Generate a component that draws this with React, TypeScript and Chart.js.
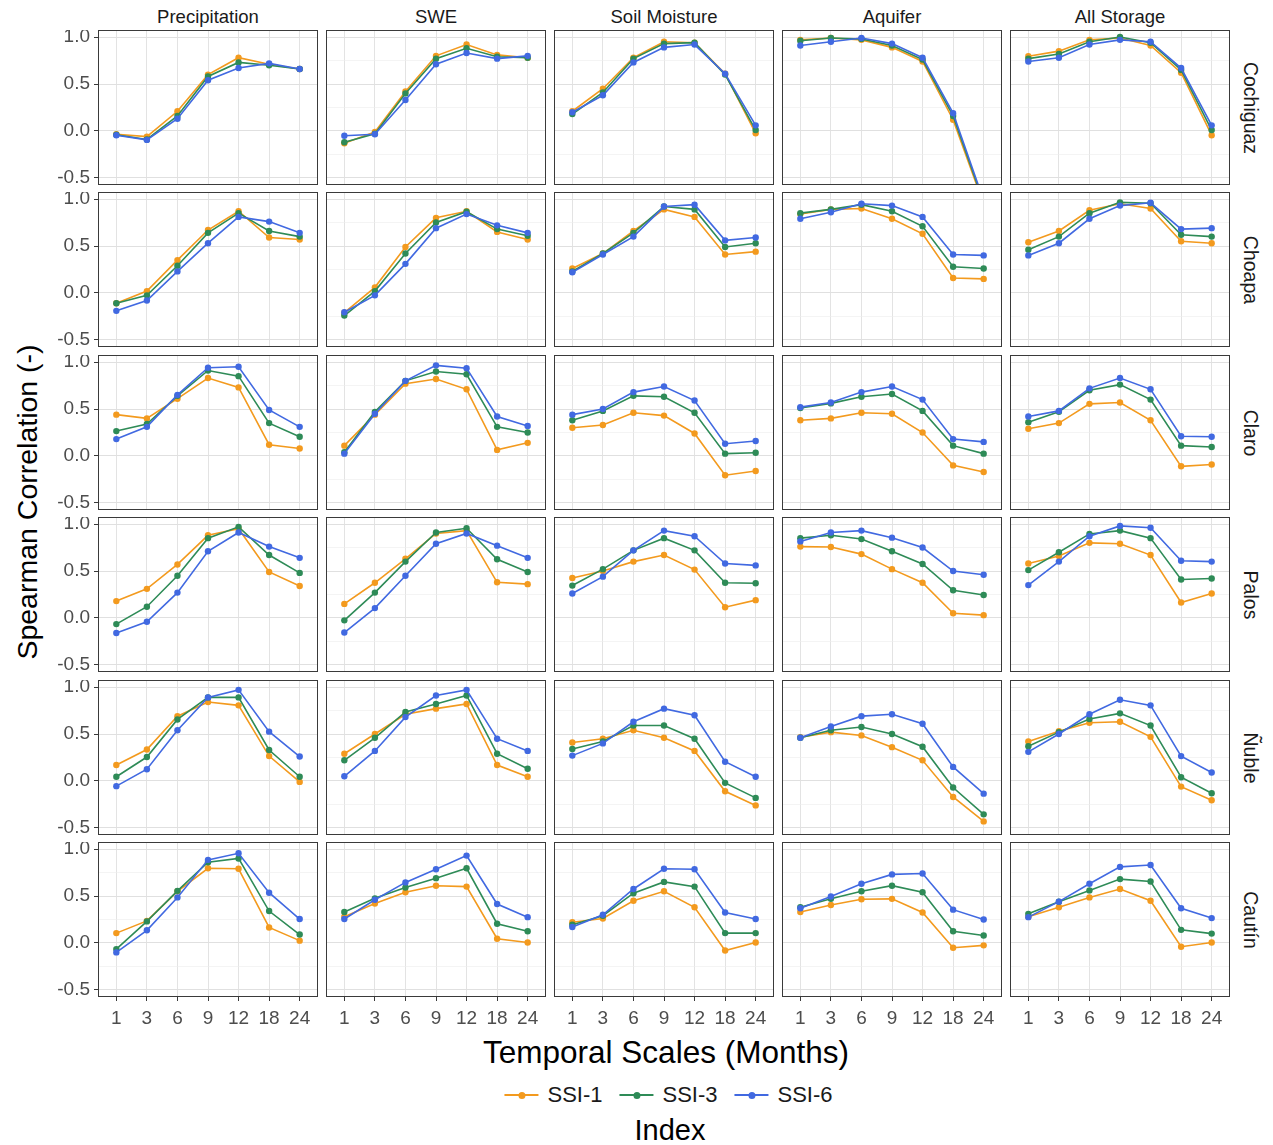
import React, { useEffect, useRef } from 'react';
import { Chart, registerables } from 'chart.js';

Chart.register(...registerables);

// ---------- categories ----------
const months = ['1', '3', '6', '9', '12', '18', '24'];
const variables = ['Precipitation', 'SWE', 'Soil Moisture', 'Aquifer', 'All Storage'];
const basins = ['Cochiguaz', 'Choapa', 'Claro', 'Palos', 'Ñuble', 'Cautín'];
const indices = ['SSI-1', 'SSI-3', 'SSI-6'];
const indexColors = ['#f39a1e', '#2e8b57', '#4169e1'];
const yMajorTicks = [-0.5, 0, 0.5, 1.0];
const yMinorTicks = [-0.25, 0.25, 0.75];

// ---------- data: each array = [SSI-1, SSI-3, SSI-6] over months ----------
const cochiguazPrecipitation = [
  [-0.035, -0.06, 0.21, 0.6, 0.78, 0.71, 0.66],
  [-0.04, -0.09, 0.16, 0.58, 0.73, 0.7, 0.66],
  [-0.045, -0.095, 0.13, 0.54, 0.67, 0.72, 0.66],
];
const cochiguazSWE = [
  [-0.13, -0.01, 0.42, 0.8, 0.92, 0.81, 0.78],
  [-0.12, -0.03, 0.4, 0.77, 0.88, 0.79, 0.78],
  [-0.05, -0.035, 0.33, 0.71, 0.83, 0.77, 0.8],
];
const cochiguazSoil = [
  [0.21, 0.45, 0.78, 0.95, 0.94, 0.61, -0.025],
  [0.18, 0.41, 0.77, 0.93, 0.94, 0.6, 0.01],
  [0.2, 0.38, 0.73, 0.89, 0.92, 0.61, 0.06],
];
const cochiguazAquifer = [
  [0.97, 0.99, 0.97, 0.89, 0.74, 0.12, -0.78],
  [0.96, 0.99, 0.98, 0.91, 0.76, 0.16, -0.76],
  [0.91, 0.95, 0.99, 0.93, 0.78, 0.19, -0.74],
];
const cochiguazAll = [
  [0.795, 0.85, 0.97, 0.99, 0.91, 0.62, -0.045],
  [0.77, 0.82, 0.95, 1.0, 0.94, 0.65, 0.01],
  [0.74, 0.78, 0.92, 0.97, 0.95, 0.67, 0.06],
];

const choapaPrecipitation = [
  [-0.11, 0.02, 0.35, 0.67, 0.87, 0.59, 0.57],
  [-0.11, -0.025, 0.29, 0.64, 0.85, 0.66, 0.6],
  [-0.19, -0.08, 0.23, 0.53, 0.81, 0.76, 0.64],
];
const choapaSWE = [
  [-0.21, 0.06, 0.49, 0.8, 0.87, 0.65, 0.57],
  [-0.24, 0.02, 0.42, 0.75, 0.865, 0.68, 0.61],
  [-0.205, -0.025, 0.31, 0.69, 0.84, 0.72, 0.64],
];
const choapaSoil = [
  [0.26, 0.42, 0.66, 0.89, 0.81, 0.41, 0.44],
  [0.23, 0.42, 0.64, 0.92, 0.89, 0.49, 0.53],
  [0.22, 0.41, 0.6, 0.92, 0.94, 0.56, 0.59],
];
const choapaAquifer = [
  [0.84, 0.89, 0.9, 0.79, 0.63, 0.16, 0.15],
  [0.85, 0.89, 0.94, 0.87, 0.71, 0.28, 0.26],
  [0.79, 0.86, 0.95, 0.93, 0.81, 0.41, 0.4],
];
const choapaAll = [
  [0.54, 0.66, 0.88, 0.95, 0.9, 0.55, 0.53],
  [0.46, 0.6, 0.85, 0.965, 0.955, 0.62, 0.6],
  [0.4, 0.53, 0.79, 0.93, 0.96, 0.68, 0.69],
];

const claroPrecipitation = [
  [0.44, 0.4, 0.61, 0.83, 0.73, 0.12, 0.08],
  [0.265, 0.34, 0.64, 0.91, 0.85, 0.35, 0.205],
  [0.18, 0.31, 0.65, 0.94, 0.95, 0.49, 0.31],
];
const claroSWE = [
  [0.11, 0.44, 0.77, 0.82, 0.71, 0.065, 0.14],
  [0.04, 0.47, 0.8, 0.9, 0.87, 0.31, 0.25],
  [0.025, 0.45, 0.8, 0.965, 0.935, 0.42, 0.32],
];
const claroSoil = [
  [0.3, 0.33, 0.46, 0.43, 0.24, -0.205, -0.16],
  [0.38, 0.48, 0.64, 0.63, 0.46, 0.025, 0.035],
  [0.44, 0.5, 0.68, 0.74, 0.59, 0.13, 0.16],
];
const claroAquifer = [
  [0.38, 0.4, 0.46, 0.45, 0.25, -0.1, -0.17],
  [0.51, 0.56, 0.63, 0.66, 0.48, 0.11, 0.025],
  [0.52, 0.57, 0.68, 0.74, 0.6, 0.18, 0.15],
];
const claroAll = [
  [0.29, 0.35, 0.555, 0.57, 0.38, -0.11, -0.09],
  [0.36, 0.47, 0.7, 0.76, 0.6, 0.11, 0.095],
  [0.42, 0.48, 0.72, 0.83, 0.71, 0.21, 0.205],
];

const palosPrecipitation = [
  [0.18, 0.31, 0.57, 0.88, 0.95, 0.49, 0.34],
  [-0.065, 0.12, 0.45, 0.85, 0.97, 0.67, 0.48],
  [-0.16, -0.04, 0.27, 0.71, 0.91, 0.76, 0.64],
];
const palosSWE = [
  [0.15, 0.375, 0.63, 0.9, 0.93, 0.38, 0.36],
  [-0.025, 0.27, 0.6, 0.91, 0.955, 0.625, 0.49],
  [-0.155, 0.105, 0.45, 0.79, 0.9, 0.77, 0.64],
];
const palosSoil = [
  [0.425, 0.5, 0.6, 0.67, 0.515, 0.115, 0.19],
  [0.345, 0.52, 0.72, 0.85, 0.72, 0.375, 0.37],
  [0.26, 0.44, 0.72, 0.93, 0.87, 0.58, 0.56],
];
const palosAquifer = [
  [0.76, 0.755, 0.68, 0.52, 0.375, 0.05, 0.03],
  [0.85, 0.88, 0.84, 0.71, 0.575, 0.295, 0.245],
  [0.815, 0.91, 0.93, 0.855, 0.75, 0.5, 0.46],
];
const palosAll = [
  [0.58, 0.66, 0.8, 0.79, 0.67, 0.165, 0.26],
  [0.51, 0.7, 0.895, 0.93, 0.85, 0.41, 0.42],
  [0.35, 0.6, 0.87, 0.98, 0.96, 0.61, 0.6],
];

const nublePrecipitation = [
  [0.17, 0.335, 0.69, 0.84, 0.805, 0.265, -0.01],
  [0.045, 0.255, 0.655, 0.89, 0.89, 0.33, 0.045],
  [-0.055, 0.125, 0.54, 0.89, 0.97, 0.525, 0.26],
];
const nubleSWE = [
  [0.29, 0.5, 0.71, 0.77, 0.82, 0.17, 0.045],
  [0.22, 0.46, 0.735, 0.82, 0.91, 0.29, 0.13],
  [0.05, 0.32, 0.68, 0.91, 0.97, 0.45, 0.32],
];
const nubleSoil = [
  [0.41, 0.45, 0.54, 0.46, 0.32, -0.11, -0.26],
  [0.34, 0.42, 0.59, 0.59, 0.45, -0.02, -0.18],
  [0.27, 0.4, 0.63, 0.77, 0.7, 0.205, 0.045],
];
const nubleAquifer = [
  [0.465, 0.52, 0.485, 0.36, 0.22, -0.17, -0.43],
  [0.46, 0.54, 0.575, 0.5, 0.365, -0.07, -0.355],
  [0.46, 0.58, 0.69, 0.71, 0.61, 0.15, -0.135],
];
const nubleAll = [
  [0.42, 0.53, 0.62, 0.63, 0.47, -0.06, -0.205],
  [0.37, 0.52, 0.66, 0.72, 0.59, 0.04, -0.13],
  [0.31, 0.5, 0.71, 0.865, 0.805, 0.265, 0.09],
];

const cautinPrecipitation = [
  [0.105, 0.235, 0.55, 0.795, 0.79, 0.165, 0.025],
  [-0.065, 0.23, 0.555, 0.86, 0.9, 0.34, 0.09],
  [-0.1, 0.135, 0.485, 0.885, 0.955, 0.535, 0.255],
];
const cautinSWE = [
  [0.28, 0.42, 0.54, 0.61, 0.6, 0.045, 0.005],
  [0.33, 0.475, 0.59, 0.69, 0.795, 0.205, 0.125],
  [0.255, 0.46, 0.645, 0.785, 0.93, 0.415, 0.275],
];
const cautinSoil = [
  [0.22, 0.26, 0.45, 0.55, 0.38, -0.08, 0.005],
  [0.195, 0.29, 0.53, 0.65, 0.6, 0.105, 0.105],
  [0.17, 0.3, 0.575, 0.79, 0.785, 0.325, 0.255],
];
const cautinAquifer = [
  [0.33, 0.405, 0.465, 0.47, 0.325, -0.05, -0.025],
  [0.38, 0.47, 0.55, 0.61, 0.54, 0.125, 0.08],
  [0.37, 0.495, 0.63, 0.73, 0.74, 0.355, 0.25],
];
const cautinAll = [
  [0.28, 0.38, 0.485, 0.575, 0.45, -0.04, 0.005],
  [0.31, 0.44, 0.56, 0.68, 0.655, 0.14, 0.1],
  [0.275, 0.44, 0.63, 0.81, 0.83, 0.37, 0.265],
];

const panelTable = [
  [cochiguazPrecipitation, cochiguazSWE, cochiguazSoil, cochiguazAquifer, cochiguazAll],
  [choapaPrecipitation, choapaSWE, choapaSoil, choapaAquifer, choapaAll],
  [claroPrecipitation, claroSWE, claroSoil, claroAquifer, claroAll],
  [palosPrecipitation, palosSWE, palosSoil, palosAquifer, palosAll],
  [nublePrecipitation, nubleSWE, nubleSoil, nubleAquifer, nubleAll],
  [cautinPrecipitation, cautinSWE, cautinSoil, cautinAquifer, cautinAll],
];

// ---------- layout ----------
const FONT = '"Liberation Sans", Arial, Helvetica, sans-serif';
const PANEL_LEFT0 = 98;
const PANEL_DX = 228;
const PANEL_W = 220;
const PANEL_TOP0 = 30;
const PANEL_DY = 162.4;
const PANEL_H = 155;
const Y_AXIS_W = 45;
const X_AXIS_H = 36;

const panelLeft = (c: number) => PANEL_LEFT0 + c * PANEL_DX;
const panelTop = (r: number) => Math.round(PANEL_TOP0 + r * PANEL_DY);

const borderPlugin = {
  id: 'panelBorder',
  afterDraw(chart: any) {
    const { ctx, chartArea: a } = chart;
    ctx.save();
    ctx.strokeStyle = '#3a3a3a';
    ctx.lineWidth = 1;
    ctx.strokeRect(Math.round(a.left) + 0.5, Math.round(a.top) + 0.5, Math.round(a.right - a.left) - 1, Math.round(a.bottom - a.top) - 1);
    ctx.restore();
  },
};

const isMajor = (v: number) => yMajorTicks.some((t) => Math.abs(t - v) < 1e-6);

function Panel({ row, col }: { row: number; col: number }) {
  const ref = useRef<HTMLCanvasElement>(null);
  const extLeft = col === 0 ? Y_AXIS_W : 0;
  const extBottom = row === basins.length - 1 ? X_AXIS_H : 0;
  const width = PANEL_W + extLeft;
  const height = PANEL_H + extBottom;

  useEffect(() => {
    const series = panelTable[row][col];
    const chart = new Chart(ref.current as HTMLCanvasElement, {
      type: 'line',
      data: {
        datasets: indices.map((name, k) => ({
          label: name,
          data: series[k].map((v, i) => ({ x: i + 1, y: v })),
          borderColor: indexColors[k],
          backgroundColor: indexColors[k],
          pointBackgroundColor: indexColors[k],
          pointBorderColor: indexColors[k],
          pointRadius: 3.2,
          pointBorderWidth: 0,
          borderWidth: 1.6,
          tension: 0,
          order: indices.length - 1 - k,
        })),
      },
      options: {
        responsive: false,
        animation: false,
        devicePixelRatio: 1,
        layout: { padding: 0, autoPadding: false },
        plugins: { legend: { display: false }, tooltip: { enabled: false }, title: { display: false } },
        events: [],
        scales: {
          x: {
            type: 'linear',
            min: 0.4,
            max: 7.6,
            afterBuildTicks: (axis: any) => {
              axis.ticks = months.map((_, i) => ({ value: i + 1 }));
            },
            afterFit: (axis: any) => {
              axis.height = extBottom;
              axis.paddingLeft = 0;
              axis.paddingRight = 0;
              axis.paddingTop = 0;
              axis.paddingBottom = 0;
            },
            border: { display: false },
            grid: {
              color: '#e3e3e3',
              lineWidth: 1,
              drawTicks: extBottom > 0,
              tickLength: 4,
              tickColor: '#3a3a3a',
            },
            ticks: {
              display: extBottom > 0,
              autoSkip: false,
              maxRotation: 0,
              padding: 6,
              color: '#4d4d4d',
              font: { family: FONT, size: 19 },
              callback: (v: any) => months[Math.round(Number(v)) - 1] ?? '',
            },
          },
          y: {
            type: 'linear',
            min: -0.575,
            max: 1.075,
            afterBuildTicks: (axis: any) => {
              axis.ticks = [...yMajorTicks, ...yMinorTicks]
                .sort((a, b) => a - b)
                .map((v) => ({ value: v }));
            },
            afterFit: (axis: any) => {
              axis.width = extLeft;
              axis.paddingLeft = 0;
              axis.paddingRight = 0;
              axis.paddingTop = 0;
              axis.paddingBottom = 0;
            },
            border: { display: false },
            grid: {
              color: (ctx: any) => (isMajor(ctx.tick?.value) ? '#e0e0e0' : '#ececec'),
              lineWidth: (ctx: any) => (isMajor(ctx.tick?.value) ? 1 : 0.6),
              drawTicks: extLeft > 0,
              tickLength: 4,
              tickColor: (ctx: any) => (isMajor(ctx.tick?.value) ? '#3a3a3a' : 'rgba(0,0,0,0)'),
            },
            ticks: {
              display: extLeft > 0,
              padding: 4,
              color: '#4d4d4d',
              font: { family: FONT, size: 19 },
              callback: (v: any) => (isMajor(Number(v)) ? Number(v).toFixed(1) : ''),
            },
          },
        },
      },
      plugins: [borderPlugin],
    } as any);
    return () => chart.destroy();
  }, [row, col]);

  return (
    <canvas
      ref={ref}
      width={width}
      height={height}
      style={{
        position: 'absolute',
        left: panelLeft(col) - extLeft,
        top: panelTop(row),
        width,
        height,
      }}
    />
  );
}

function LegendKey({ color }: { color: string }) {
  return (
    <span style={{ position: 'relative', display: 'inline-block', width: 40, height: 22 }}>
      <span
        style={{
          position: 'absolute',
          left: 3,
          right: 3,
          top: 10,
          height: 2,
          background: color,
        }}
      />
      <span
        style={{
          position: 'absolute',
          left: 16.5,
          top: 7.5,
          width: 7,
          height: 7,
          borderRadius: '50%',
          background: color,
        }}
      />
    </span>
  );
}

export default function App() {
  const centerX = PANEL_LEFT0 + (variables.length * PANEL_DX - (PANEL_DX - PANEL_W)) / 2;

  return (
    <div
      style={{
        position: 'absolute',
        left: 0,
        top: 0,
        width: 1273,
        height: 1145,
        background: '#ffffff',
        fontFamily: FONT,
        overflow: 'hidden',
      }}
    >
      {basins.map((_, r) =>
        variables.map((__, c) => <Panel key={`${r}-${c}`} row={r} col={c} />)
      )}

      {variables.map((v, c) => (
        <div
          key={v}
          style={{
            position: 'absolute',
            left: panelLeft(c),
            width: PANEL_W,
            top: 6,
            textAlign: 'center',
            fontSize: 18.5,
            color: '#1a1a1a',
            lineHeight: '22px',
            whiteSpace: 'nowrap',
          }}
        >
          {v}
        </div>
      ))}

      {basins.map((b, r) => (
        <div
          key={b}
          style={{
            position: 'absolute',
            left: 1251,
            top: panelTop(r) + PANEL_H / 2,
            transform: 'translate(-50%, -50%) rotate(90deg)',
            fontSize: 19.5,
            color: '#1a1a1a',
            whiteSpace: 'nowrap',
            lineHeight: '22px',
          }}
        >
          {b}
        </div>
      ))}

      <div
        style={{
          position: 'absolute',
          left: 27,
          top: 502,
          transform: 'translate(-50%, -50%) rotate(-90deg)',
          fontSize: 28.5,
          color: '#000',
          whiteSpace: 'nowrap',
          lineHeight: '32px',
        }}
      >
        Spearman Correlation (-)
      </div>

      <div
        style={{
          position: 'absolute',
          left: centerX + 2,
          top: 1052,
          transform: 'translate(-50%, -50%)',
          fontSize: 31.5,
          color: '#000',
          whiteSpace: 'nowrap',
          lineHeight: '36px',
        }}
      >
        Temporal Scales (Months)
      </div>

      <div
        style={{
          position: 'absolute',
          left: centerX + 3,
          top: 1095,
          transform: 'translate(-50%, -50%)',
          display: 'flex',
          alignItems: 'center',
          whiteSpace: 'nowrap',
        }}
      >
        {indices.map((name, k) => (
          <span key={name} style={{ display: 'inline-flex', alignItems: 'center', marginRight: k < indices.length - 1 ? 14 : 0 }}>
            <LegendKey color={indexColors[k]} />
            <span style={{ fontSize: 22, color: '#1a1a1a', marginLeft: 6, lineHeight: '26px' }}>{name}</span>
          </span>
        ))}
      </div>

      <div
        style={{
          position: 'absolute',
          left: centerX + 6,
          top: 1130,
          transform: 'translate(-50%, -50%)',
          fontSize: 29,
          color: '#000',
          whiteSpace: 'nowrap',
          lineHeight: '32px',
        }}
      >
        Index
      </div>
    </div>
  );
}
